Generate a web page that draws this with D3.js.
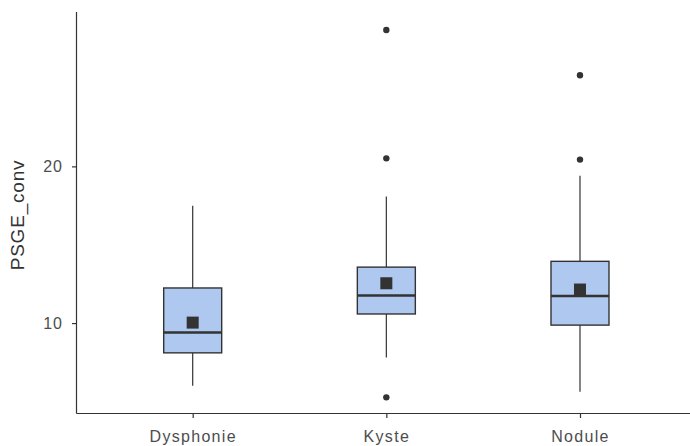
<!DOCTYPE html>
<html><head><meta charset="utf-8">
<script src="https://cdn.jsdelivr.net/npm/d3@7"></script>
<style>body{margin:0;background:#fff}svg{display:block}</style>
</head><body>
<script>
const categories = ["Dysphonie","Kyste","Nodule"];
const q1 = [8.10, 10.58, 9.87];
const median = [9.40, 11.76, 11.73];
const q3 = [12.24, 13.57, 13.94];
const whiskerLow = [6.0, 7.80, 5.62];
const whiskerHigh = [17.48, 18.08, 19.40];
const means = [10.03, 12.54, 12.14];
const outliers = [[], [28.70, 20.51, 5.26], [25.81, 20.43]];
const yTicks = [10, 20];

(function(){
const W = 690, H = 446;
const svg = d3.select("body").append("svg").attr("width", W).attr("height", H);

const pLeft = 76.5, pBottom = 413.5, pTop = 12;
const y = d3.scaleLinear().domain([4.23, 29.85]).range([pBottom, pTop]);
// discrete x positions with ggplot-like 0.6 expansion
const x = d3.scalePoint().domain(categories).range([pLeft + 0.6 * 193.65, pLeft + 2.6 * 193.65]);
const bw = 58;

const g = svg.append("g");
categories.forEach((c, i) => {
  const X = x(c);
  g.append("line").attr("x1", X).attr("x2", X).attr("y1", y(q3[i])).attr("y2", y(whiskerHigh[i]))
    .attr("stroke", "#333").attr("stroke-width", 1.2);
  g.append("line").attr("x1", X).attr("x2", X).attr("y1", y(q1[i])).attr("y2", y(whiskerLow[i]))
    .attr("stroke", "#333").attr("stroke-width", 1.2);
  g.append("rect").attr("x", X - bw/2).attr("y", y(q3[i])).attr("width", bw).attr("height", y(q1[i]) - y(q3[i]))
    .attr("fill", "#aec8f0").attr("stroke", "#333").attr("stroke-width", 1.4);
  g.append("line").attr("x1", X - bw/2).attr("x2", X + bw/2).attr("y1", y(median[i])).attr("y2", y(median[i]))
    .attr("stroke", "#333").attr("stroke-width", 2.5);
  outliers[i].forEach(v => {
    g.append("circle").attr("cx", X).attr("cy", y(v)).attr("r", 3.2).attr("fill", "#333");
  });
  g.append("rect").attr("x", X - 6).attr("y", y(means[i]) - 6).attr("width", 12).attr("height", 12).attr("fill", "#333");
});

const font = "Liberation Sans, Arial, sans-serif";
const yAxis = d3.axisLeft(y).tickValues(yTicks).tickSize(4.5).tickPadding(9);
const ya = svg.append("g").attr("transform", `translate(${pLeft},0)`).call(yAxis);
ya.select(".domain").remove();
ya.append("line").attr("x1", 0).attr("x2", 0).attr("y1", pTop).attr("y2", pBottom).attr("stroke", "#333").attr("stroke-width", 1.2);
ya.selectAll(".tick line").attr("stroke", "#333").attr("stroke-width", 1.2);
ya.selectAll(".tick text").attr("fill", "#4d4d4d").style("font-family", font).style("font-size", "16px").style("letter-spacing", "1px");

const xa = svg.append("g").attr("transform", `translate(0,${pBottom})`);
xa.call(d3.axisBottom(x).tickSize(4.5).tickPadding(13));
xa.select(".domain").remove();
xa.append("line").attr("x1", pLeft).attr("x2", W).attr("y1", 0).attr("y2", 0).attr("stroke", "#333").attr("stroke-width", 1.2);
xa.selectAll(".tick line").attr("stroke", "#333").attr("stroke-width", 1.2);
xa.selectAll(".tick text").attr("fill", "#4d4d4d").style("font-family", font).style("font-size", "16px").style("letter-spacing", "1.3px");

svg.append("text").attr("transform", `translate(24,215) rotate(-90)`)
  .attr("text-anchor", "middle").attr("fill", "#333")
  .style("font-family", font).style("font-size", "19px").style("letter-spacing", "0.8px").text("PSGE_conv");
})();
</script>
</body></html>
